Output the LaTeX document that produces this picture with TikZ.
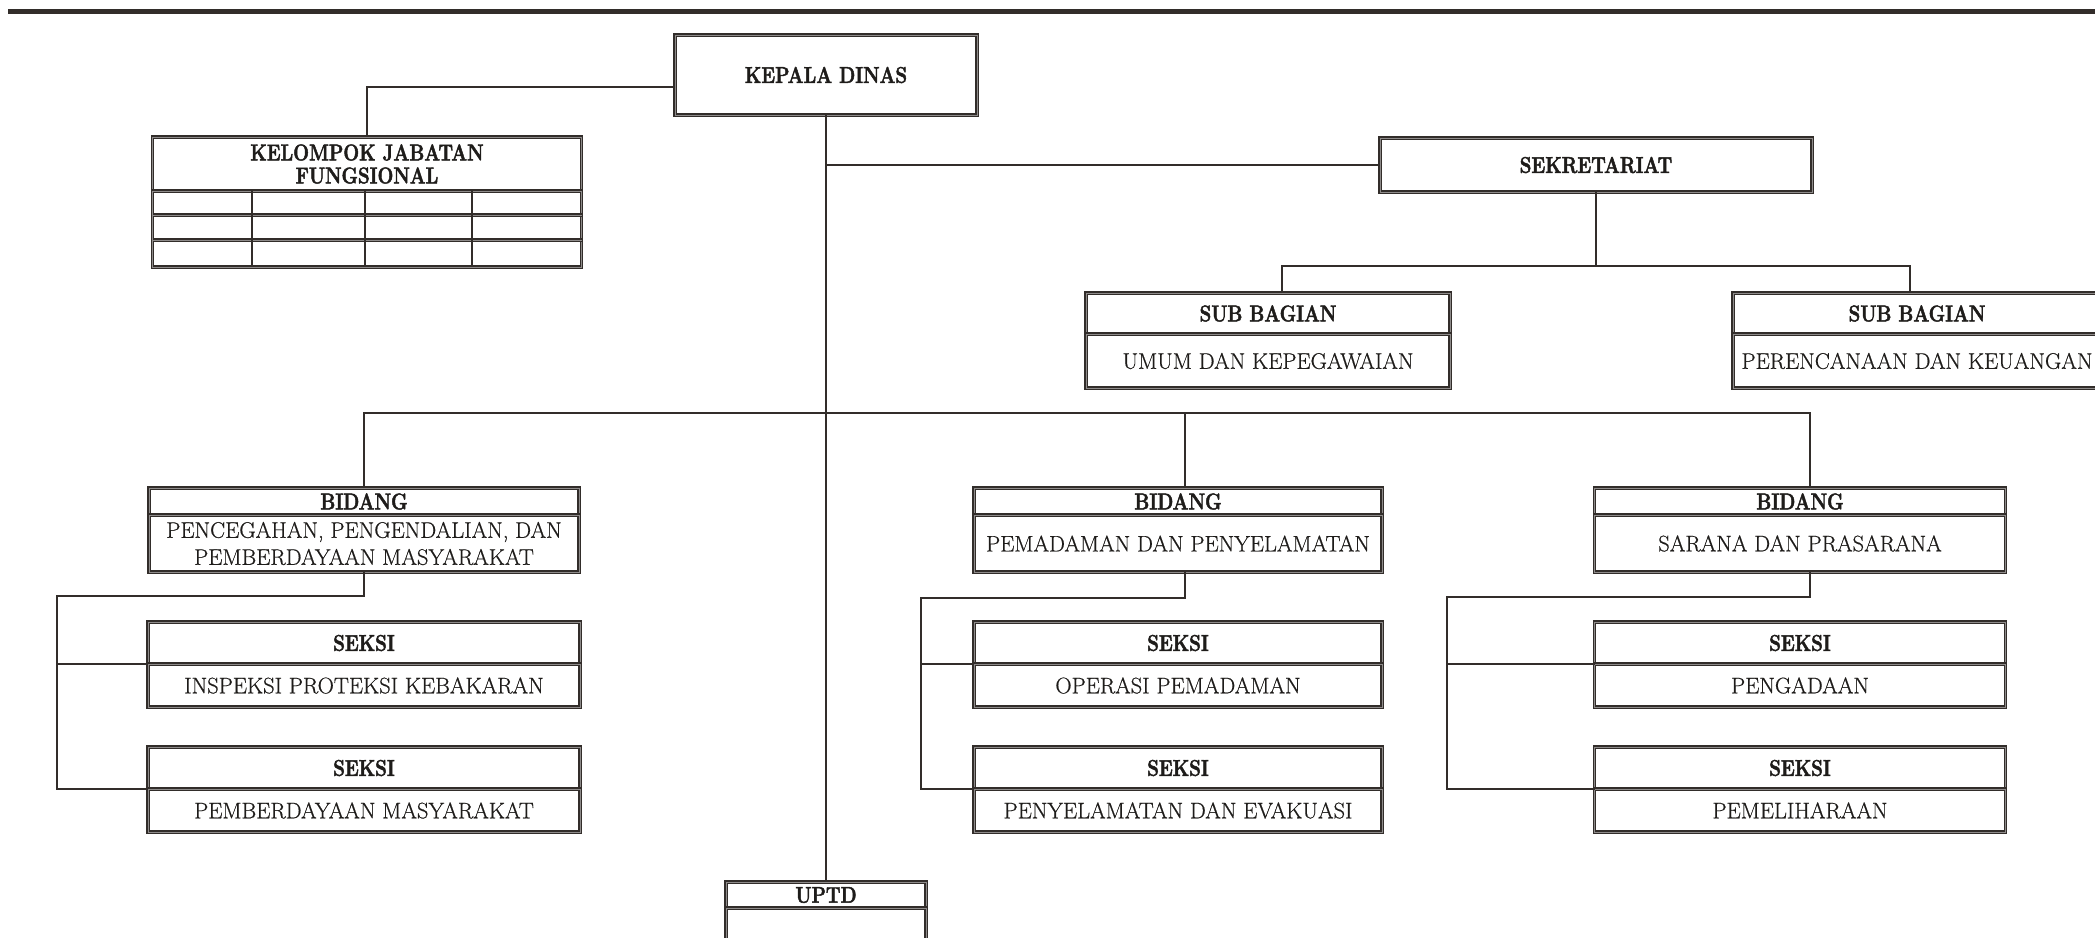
\documentclass[tikz,border=0pt]{standalone}
\usepackage{fontspec}
\usetikzlibrary{positioning}
\definecolor{linec}{RGB}{50,45,42}
\definecolor{txtc}{RGB}{30,28,26}
% heavy, narrow face for the headers
\newfontfamily\hdfont{lmroman12-bold.otf}[FakeStretch=0.82, FakeBold=2]
\newfontfamily\bdfont{lmroman17-regular.otf}[FakeBold=0.6]
\tikzset{
  boxline/.style={draw=linec, line width=1.3pt, double=linec!55!white, double distance=0.8pt},
  hdbox/.style={boxline, inner sep=0pt, outer sep=0pt, text=txtc, align=center,
    font=\hdfont\fontsize{22.8}{23}\selectfont},
  bdbox/.style={boxline, inner sep=0pt, outer sep=0pt, text=txtc, align=center,
    font=\bdfont\fontsize{22.5}{27}\selectfont},
  conn/.style={draw=linec, line width=1.4pt},
}
\begin{document}
\begin{tikzpicture}[x=1pt, y=-1pt]
\useasboundingbox (0,0) rectangle (2095,937);
\draw [draw=linec, line width=5pt] (8,11) -- (2095,11);

% top
\node [hdbox, minimum width=302pt, minimum height=80pt, anchor=north] (kadis) at (826,35) {KEPALA DINAS};
\node [hdbox, minimum width=432pt, minimum height=54pt, anchor=north] (sekr) at (1596,138) {SEKRETARIAT};

\node [hdbox, minimum width=429pt, minimum height=54pt, anchor=north] (kjfh) at (367,137) {KELOMPOK JABATAN\\FUNGSIONAL};
\node [bdbox, minimum width=429pt, minimum height=76pt, below=0pt of kjfh] (kjfb) {};
\foreach \ry in {215,240}
  \draw [boxline] (153,\ry) -- (582,\ry);
\foreach \cx in {252,365,472}
  \draw [conn] (\cx,191) -- (\cx,267);

% sub bagian
\node [hdbox, minimum width=364pt, minimum height=41pt, anchor=north] (subumh) at (1268,293) {SUB BAGIAN};
\node [bdbox, minimum width=364pt, minimum height=54pt, below=0pt of subumh] (subumb) {UMUM DAN KEPEGAWAIAN};
\node [hdbox, minimum width=368pt, minimum height=41pt, anchor=north] (subpkh) at (1917,293) {SUB BAGIAN};
\node [bdbox, minimum width=368pt, minimum height=54pt, below=0pt of subpkh] (subpkb) {PERENCANAAN DAN KEUANGAN};

% bidang
\node [hdbox, minimum width=430pt, minimum height=27pt, anchor=north] (bid1h) at (364,488) {BIDANG};
\node [bdbox, minimum width=430pt, minimum height=57pt, below=0pt of bid1h] (bid1b) {PENCEGAHAN, PENGENDALIAN, DAN\\PEMBERDAYAAN MASYARAKAT};
\node [hdbox, minimum width=408pt, minimum height=27pt, anchor=north] (bid2h) at (1178,488) {BIDANG};
\node [bdbox, minimum width=408pt, minimum height=57pt, below=0pt of bid2h] (bid2b) {PEMADAMAN DAN PENYELAMATAN};
\node [hdbox, minimum width=411pt, minimum height=27pt, anchor=north] (bid3h) at (1800,488) {BIDANG};
\node [bdbox, minimum width=411pt, minimum height=57pt, below=0pt of bid3h] (bid3b) {SARANA DAN PRASARANA};

% seksi
\node [hdbox, minimum width=432pt, minimum height=42pt, anchor=north] (sek1h) at (364,622) {SEKSI};
\node [bdbox, minimum width=432pt, minimum height=43pt, below=0pt of sek1h] (sek1b) {INSPEKSI PROTEKSI KEBAKARAN};
\node [hdbox, minimum width=432pt, minimum height=42pt, anchor=north] (sek2h) at (364,747) {SEKSI};
\node [bdbox, minimum width=432pt, minimum height=43pt, below=0pt of sek2h] (sek2b) {PEMBERDAYAAN MASYARAKAT};
\node [hdbox, minimum width=408pt, minimum height=42pt, anchor=north] (sek3h) at (1178,622) {SEKSI};
\node [bdbox, minimum width=408pt, minimum height=43pt, below=0pt of sek3h] (sek3b) {OPERASI PEMADAMAN};
\node [hdbox, minimum width=408pt, minimum height=42pt, anchor=north] (sek4h) at (1178,747) {SEKSI};
\node [bdbox, minimum width=408pt, minimum height=43pt, below=0pt of sek4h] (sek4b) {PENYELAMATAN DAN EVAKUASI};
\node [hdbox, minimum width=411pt, minimum height=42pt, anchor=north] (sek5h) at (1800,622) {SEKSI};
\node [bdbox, minimum width=411pt, minimum height=43pt, below=0pt of sek5h] (sek5b) {PENGADAAN};
\node [hdbox, minimum width=411pt, minimum height=42pt, anchor=north] (sek6h) at (1800,747) {SEKSI};
\node [bdbox, minimum width=411pt, minimum height=43pt, below=0pt of sek6h] (sek6b) {PEMELIHARAAN};

\node [hdbox, minimum width=200pt, minimum height=26pt, anchor=north] (uptdh) at (826,882) {UPTD};
\node [bdbox, minimum width=200pt, minimum height=50pt, below=0pt of uptdh] (uptdb) {};

% lines
\draw [conn] ([yshift=-12pt]kadis.west) -| (kjfh.north);
\draw [conn] (kadis.south) -- (uptdh.north);
\draw [conn] (sekr.west) -- (sekr.west -| kadis.south);
\coordinate (sbus) at (1596,266);
\draw [conn] (sekr.south) -- (sbus);
\draw [conn] ([xshift=14pt]subumh.north) |- (sbus) -| ([xshift=-7pt]subpkh.north);
\coordinate (bbus) at (826,413);
\draw [conn] (bid1h.north) |- (bbus) -| ([xshift=10pt]bid3h.north);
\draw [conn] (bbus) -| ([xshift=7pt]bid2h.north);

\coordinate (lbend) at (57,596);
\draw [conn] (bid1b.south) |- (lbend) |- (sek2h.south west);
\draw [conn] (lbend |- sek1h.south west) -- (sek1h.south west);
\coordinate (mbend) at (921,598);
\draw [conn] ([xshift=7pt]bid2b.south) |- (mbend) |- (sek4h.south west);
\draw [conn] (mbend |- sek3h.south west) -- (sek3h.south west);
\coordinate (rbend) at (1447,597);
\draw [conn] ([xshift=10pt]bid3b.south) |- (rbend) |- (sek6h.south west);
\draw [conn] (rbend |- sek5h.south west) -- (sek5h.south west);

\end{tikzpicture}
\end{document}
